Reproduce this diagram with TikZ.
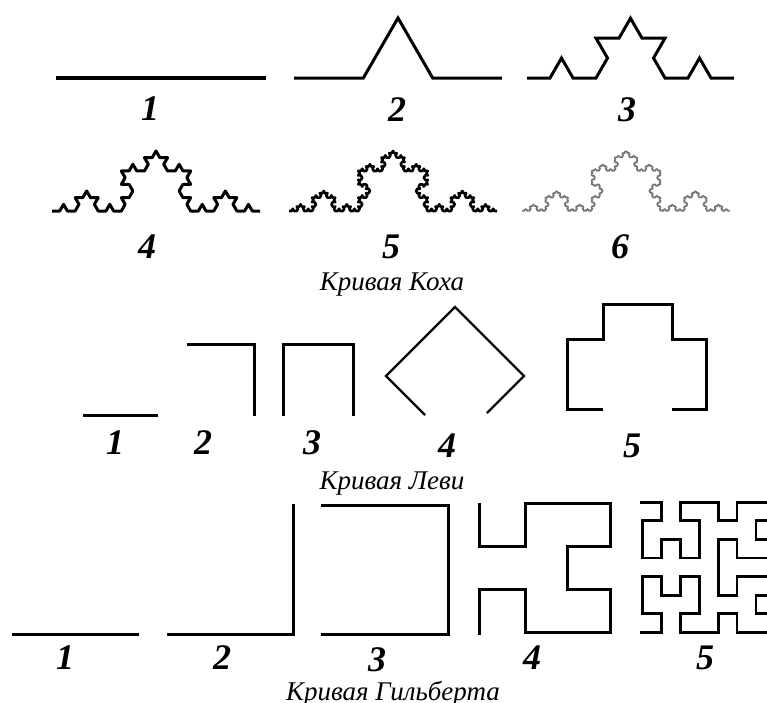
\documentclass[tikz,border=0pt]{standalone}
\usepackage{fontspec}
\setmainfont{Liberation Serif}
\usetikzlibrary{lindenmayersystems}
\pgfdeclarelindenmayersystem{Koch}{\rule{F -> F+F--F+F}}
\begin{document}
\begin{tikzpicture}[x=1pt,y=-1pt,
  num/.style={font=\fontsize{36}{36}\selectfont\bfseries\itshape, inner sep=0pt},
  capt/.style={font=\fontsize{27}{27}\selectfont\itshape, inner sep=0pt, anchor=base},
  curve/.style={line width=3pt, line join=miter, line cap=butt},
  kochline/.style={line width=3pt, line join=round},
]
\useasboundingbox (0,0) rectangle (767,702);
\clip (0,0) rectangle (767,702);

% ---------------- Koch ----------------
\draw[line width=4.5pt] (56,78) -- (266,78);
\begin{scope}[shift={(294,78)}]
  \draw[kochline, line join=miter, l-system={Koch, axiom=F, order=1, step=69.33pt, angle=60}] (0,0) lindenmayer system;
\end{scope}
\begin{scope}[shift={(527,78)}]
  \draw[kochline, line join=miter, l-system={Koch, axiom=F, order=2, step=23pt, angle=60}] (0,0) lindenmayer system;
\end{scope}
\begin{scope}[shift={(52,211)}]
  \draw[kochline, l-system={Koch, axiom=F, order=3, step=7.704pt, angle=60}] (0,0) lindenmayer system;
\end{scope}
\begin{scope}[shift={(289,211)}]
  \draw[kochline, line width=2.6pt, l-system={Koch, axiom=F, order=4, step=2.568pt, angle=60}] (0,0) lindenmayer system;
\end{scope}
\begin{scope}[shift={(522,211)}]
  \draw[kochline, line width=1.2pt, black!55, l-system={Koch, axiom=F, order=5, step=0.856pt, angle=60}] (0,0) lindenmayer system;
\end{scope}

\node[num] (k1) at (150,109) {1};
\node[num] (k2) at (397,110) {2};
\node[num] (k3) at (627,110) {3};
\node[num] (k4) at (147,247) {4};
\node[num] (k5) at (391,247) {5};
\node[num] (k6) at (620,247) {6};
\node[capt] (kcap) at (392,290) {Кривая Коха};

% ---------------- Levy ----------------
\draw[curve] (83,415) -- (158,415);
\draw[curve] (187,344) -- (254,344) -- (254,416);
\draw[curve] (283,416) -- (283,344) -- (353,344) -- (353,416);
\draw[curve, line width=2.4pt] (425,415) -- (386,376) -- (455,307) -- (524,376) -- (487,413);
\draw[curve] (603,409) -- (567,409) -- (567,339) -- (603,339) -- (603,304) -- (672,304) -- (672,339) -- (706,339) -- (706,409) -- (672,409);

\node[num] (l1) at (115,443) {1};
\node[num] (l2) at (203,443) {2};
\node[num] (l3) at (312,443) {3};
\node[num] (l4) at (447,446) {4};
\node[num] (l5) at (632,446) {5};
\node[capt] (lcap) at (392,489) {Кривая Леви};

% ---------------- Hilbert ----------------
\draw[curve] (12,634) -- (139,634);
\draw[curve] (167,634) -- (293,634) -- (293,504);
\draw[curve] (321,634) -- (448,634) -- (448,505) -- (321,505);
\draw[curve] (479,503) -- (479,546) -- (525,546) -- (525,503) -- (610,503) -- (610,546) -- (567,546) -- (567,589) -- (610,589) -- (610,632) -- (525,632) -- (525,589) -- (479,589) -- (479,635);

\begin{scope}[x=18.9pt, y=-18.57pt, shift={(642.5pt,-502.3pt)}]
\draw[curve, line width=2.8pt]
  (-0.13,0) -- (1,0) -- (1,1) -- (0,1) -- (0,3) -- (1,3) -- (1,2) -- (2,2) -- (2,3) -- (3,3) -- (3,1) -- (2,1) -- (2,0) -- (4,0)
  -- (4,1) -- (5,1) -- (5,0) -- (7,0) -- (7,1) -- (6,1) -- (6,2) -- (7,2) -- (7,3) -- (5,3) -- (5,2) -- (4,2) -- (4,5)
  -- (5,5) -- (5,4) -- (7,4) -- (7,5) -- (6,5) -- (6,6) -- (7,6) -- (7,7) -- (5,7) -- (5,6) -- (4,6) -- (4,7)
  -- (2,7) -- (2,6) -- (3,6) -- (3,4) -- (2,4) -- (2,5) -- (1,5) -- (1,4) -- (0,4) -- (0,6) -- (1,6) -- (1,7) -- (-0.13,7);
\end{scope}

\node[num] (h1) at (65,658) {1};
\node[num] (h2) at (222,658) {2};
\node[num] (h3) at (377,660) {3};
\node[num] (h4) at (532,658) {4};
\node[num] (h5) at (705,658) {5};
\node[capt] (hcap) at (393,700) {Кривая Гильберта};
\end{tikzpicture}
\end{document}
